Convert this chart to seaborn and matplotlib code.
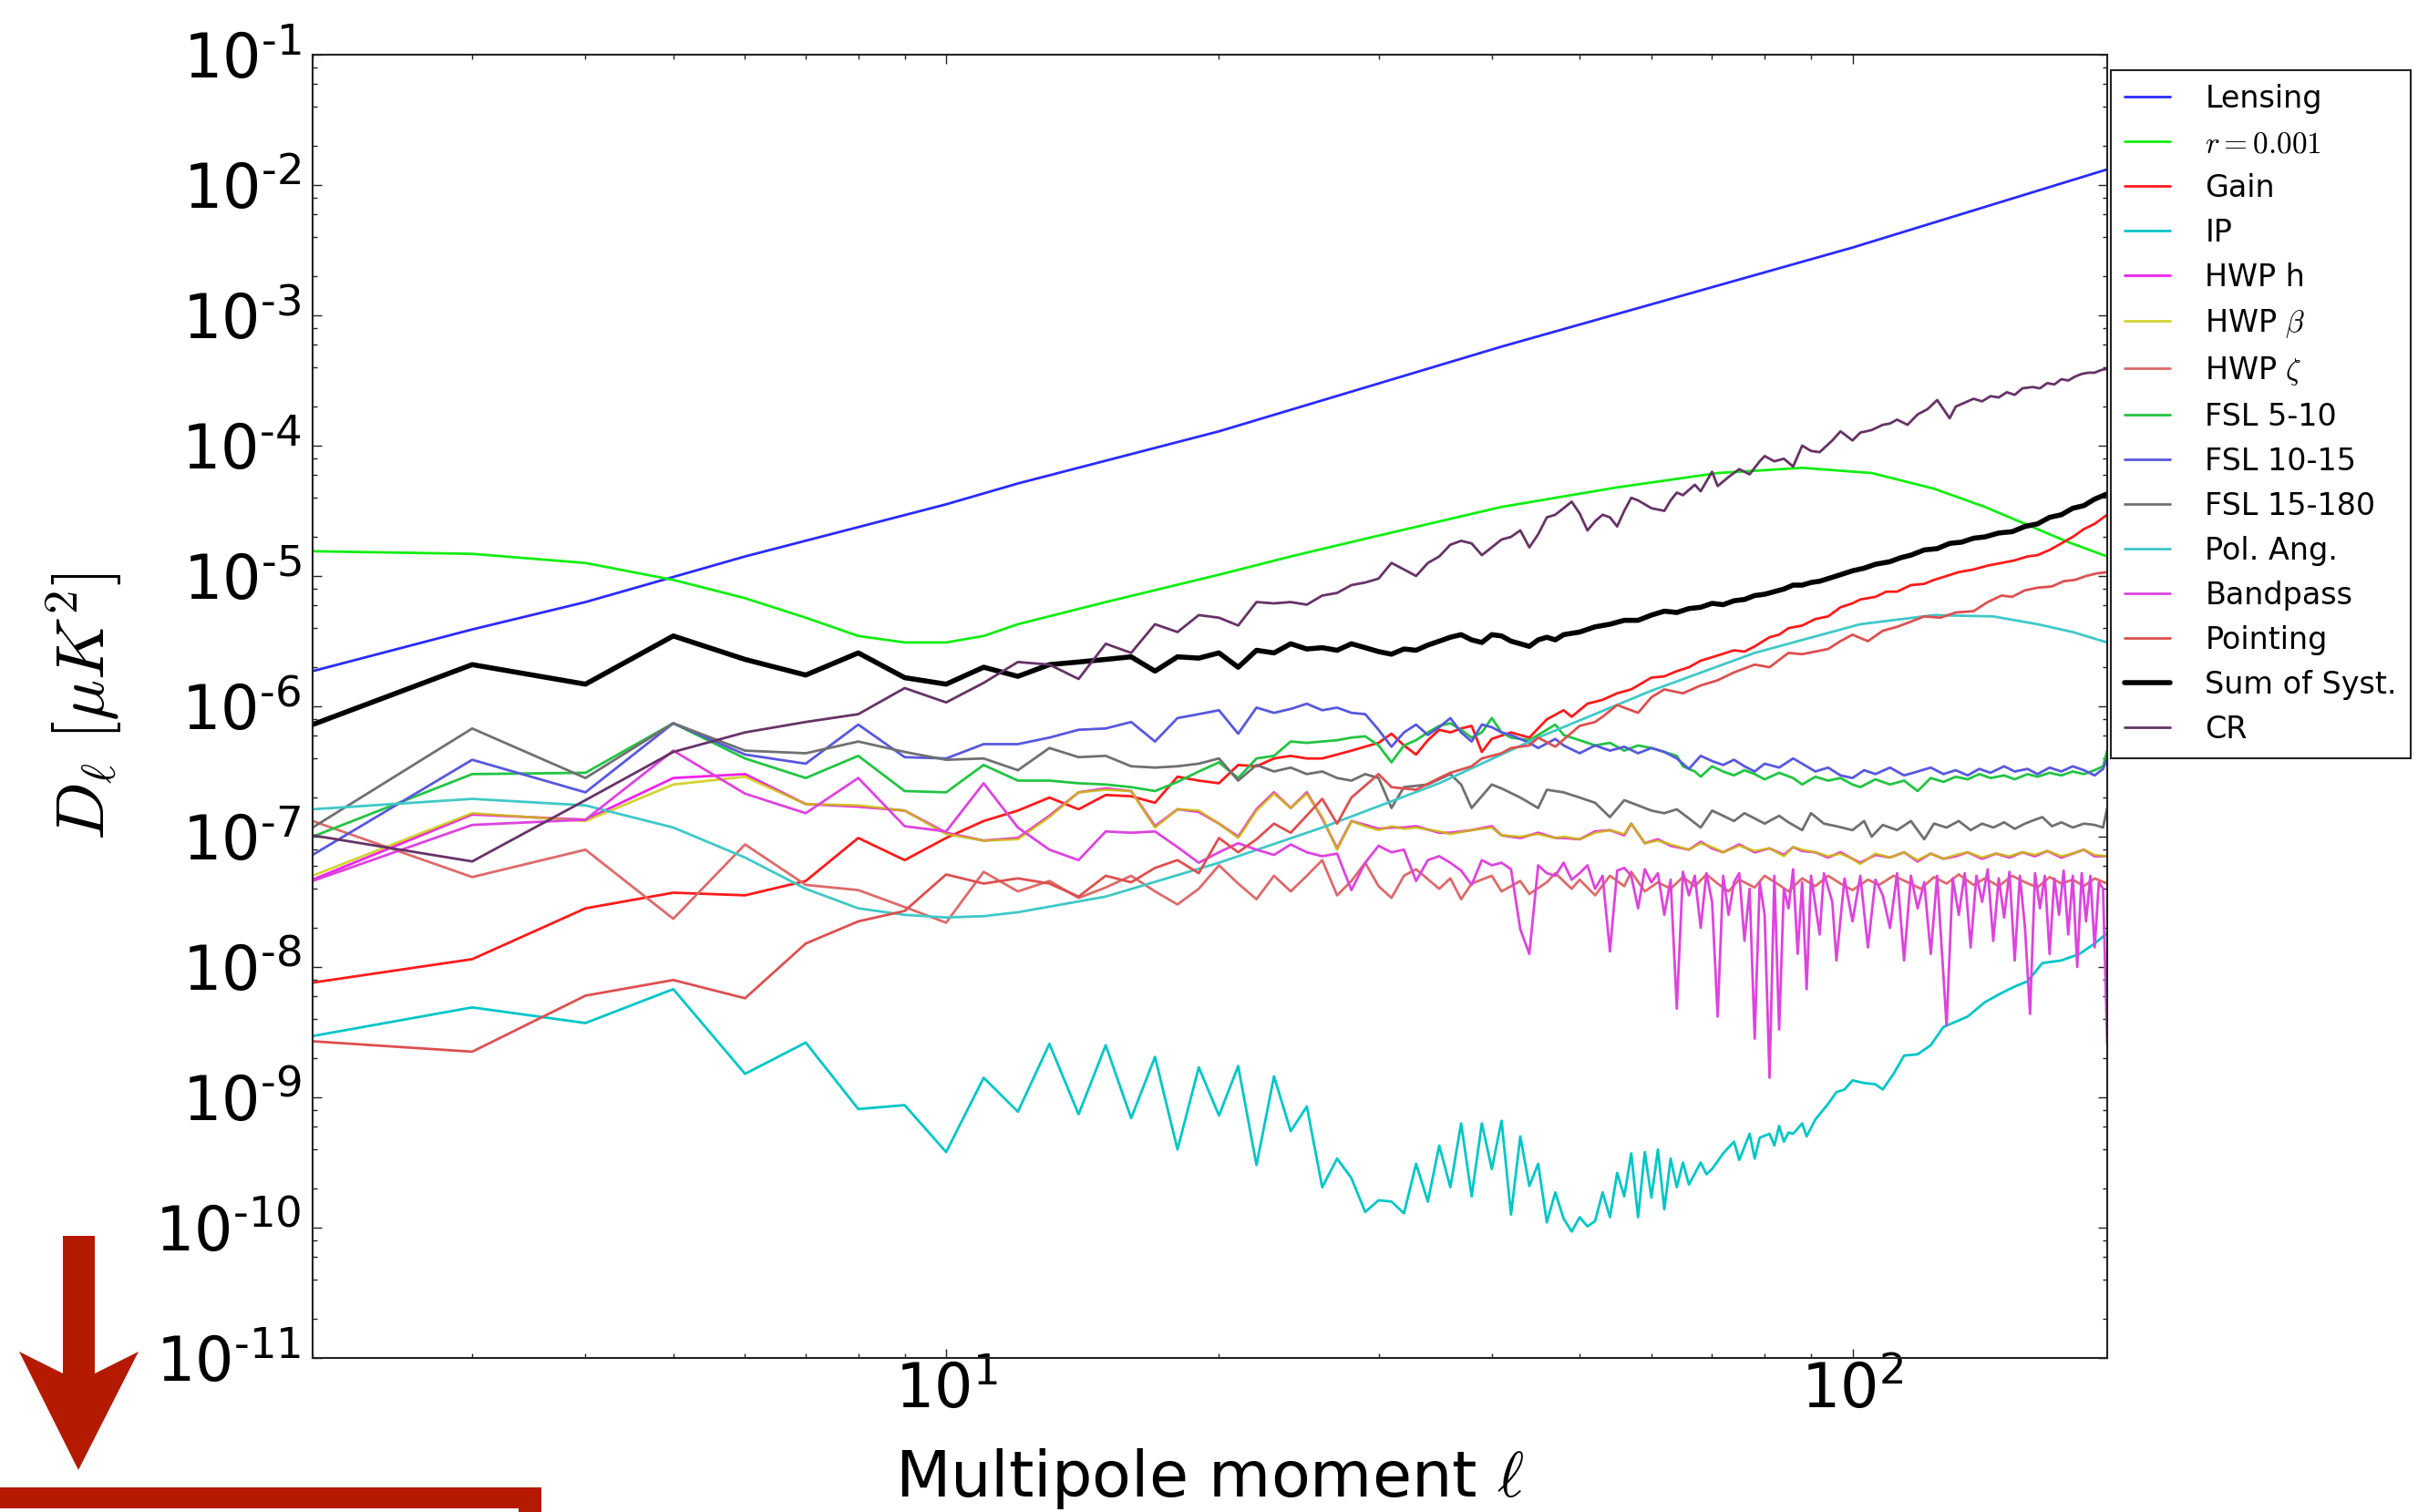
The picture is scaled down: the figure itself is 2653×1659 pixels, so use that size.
import numpy as np
import seaborn as sns
import matplotlib
matplotlib.use('Agg')
import matplotlib.pyplot as plt
from matplotlib.ticker import LogLocator, FuncFormatter, NullFormatter
from matplotlib.patches import Polygon, Rectangle

sns.set_style('ticks', {'xtick.direction': 'in', 'ytick.direction': 'in'})
plt.rcParams['font.family'] = ['DejaVu Sans']
plt.rcParams['text.color'] = 'black'
plt.rcParams['axes.labelcolor'] = 'black'
plt.rcParams['xtick.color'] = 'black'
plt.rcParams['ytick.color'] = 'black'

# (multipole, log10 D_ell) pairs
lensing = [(2, -5.73), (3, -5.41), (4, -5.20), (6, -4.85), (10, -4.45), (12, -4.29),
           (20, -3.89), (41, -3.24), (100, -2.48), (191, -1.88)]

r001 = [(2, -4.81), (3, -4.83), (4, -4.90), (5, -5.03), (6, -5.17), (7, -5.32), (8, -5.46),
        (9, -5.51), (10, -5.51), (11, -5.46), (12, -5.37), (15, -5.20), (20, -4.99), (24, -4.85),
        (30, -4.69), (41, -4.47), (55, -4.32), (71, -4.21), (88, -4.17), (105, -4.21),
        (123, -4.33), (140, -4.47), (155, -4.60), (173, -4.74), (191, -4.85)]

gain = [(2, -8.12), (3, -7.94), (4, -7.55), (5, -7.43), (6, -7.45), (7, -7.34), (8, -7.01),
        (9, -7.18), (10, -7.01), (11, -6.88), (12, -6.80), (13, -6.70), (14, -6.79), (15, -6.68),
        (16, -6.69), (17, -6.74), (18, -6.54), (19, -6.57), (20, -6.59), (21, -6.45), (22, -6.46),
        (23, -6.40), (24, -6.38), (25, -6.40), (26, -6.40), (27, -6.37), (28, -6.34), (30, -6.28),
        (31, -6.21), (32, -6.30), (33, -6.37), (34, -6.26), (35, -6.18), (36, -6.20), (37, -6.17),
        (38, -6.15), (39, -6.35), (40, -6.25), (42, -6.20), (44, -6.24), (46, -6.10), (48, -6.03),
        (49, -6.08), (51, -5.98), (53, -5.95), (55, -5.90), (57, -5.87), (60, -5.78), (62, -5.77),
        (64, -5.73), (66, -5.70), (68, -5.65), (71, -5.61), (74, -5.57), (76, -5.58), (78, -5.54),
        (81, -5.47), (83, -5.45), (85, -5.40), (88, -5.38), (91, -5.33), (94, -5.31), (97, -5.24),
        (100, -5.21), (102, -5.18), (106, -5.16), (109, -5.12), (112, -5.12), (116, -5.07),
        (120, -5.06), (123, -5.03), (127, -5.00), (131, -4.97), (136, -4.95), (141, -4.92),
        (146, -4.90), (151, -4.88), (156, -4.85), (160, -4.84), (165, -4.80), (170, -4.75),
        (175, -4.70), (180, -4.64), (185, -4.60), (191, -4.53)]

ip = [(2, -8.53), (3, -8.31), (4, -8.43), (5, -8.17), (6, -8.82), (7, -8.58), (8, -9.09),
      (9, -9.06), (10, -9.42), (11, -8.85), (12, -9.11), (13, -8.59), (14, -9.13), (15, -8.60),
      (16, -9.16), (17, -8.69), (18, -9.40), (19, -8.77), (20, -9.14), (21, -8.76), (22, -9.52),
      (23, -8.84), (24, -9.26), (25, -9.07), (26, -9.69), (27, -9.47), (28, -9.62), (29, -9.88),
      (30, -9.79), (31, -9.80), (32, -9.89), (33, -9.51), (34, -9.80), (35, -9.37), (36, -9.69),
      (37, -9.20), (38, -9.76), (39, -9.20), (40, -9.55), (41, -9.18), (42, -9.90), (43, -9.30),
      (44, -9.68), (45, -9.51), (46, -9.96), (47, -9.73), (48, -9.93), (49, -10.03), (50, -9.92),
      (51, -9.99), (52, -9.95), (53, -9.73), (54, -9.92), (55, -9.58), (56, -9.76), (57, -9.43),
      (58, -9.92), (59, -9.42), (60, -9.77), (61, -9.40), (62, -9.86), (63, -9.47), (64, -9.69),
      (65, -9.50), (66, -9.67), (68, -9.50), (69, -9.59), (70, -9.55), (72, -9.43), (74, -9.34),
      (75, -9.48), (77, -9.28), (78, -9.47), (79, -9.31), (81, -9.28), (82, -9.37), (83, -9.22),
      (84, -9.34), (85, -9.27), (86, -9.28), (88, -9.20), (89, -9.30), (91, -9.17), (94, -9.05),
      (96, -8.96), (98, -8.94), (100, -8.87), (103, -8.89), (106, -8.90), (108, -8.94),
      (111, -8.82), (114, -8.68), (118, -8.67), (122, -8.60), (126, -8.46), (130, -8.42),
      (134, -8.38), (140, -8.27), (146, -8.20), (151, -8.15), (156, -8.11), (162, -7.97),
      (170, -7.95), (178, -7.90), (185, -7.82), (191, -7.74)]

hwp_h = [(2, -7.33), (3, -6.83), (4, -6.87), (5, -6.55), (6, -6.52), (7, -6.75), (8, -6.77),
         (9, -6.80), (10, -6.97), (11, -7.03), (12, -7.01), (13, -6.84), (14, -6.66), (15, -6.63),
         (16, -6.65), (17, -6.92), (18, -6.79), (19, -6.81), (20, -6.90), (21, -7.00), (22, -6.79),
         (23, -6.66), (24, -6.78), (25, -6.66), (26, -6.86), (27, -7.09), (28, -6.88), (29, -6.91),
         (30, -6.94), (31, -6.93), (32, -6.93), (33, -6.92), (35, -6.97), (36, -6.97), (38, -6.95),
         (40, -6.92), (41, -6.99), (43, -7.01), (45, -6.97), (47, -7.01), (48, -7.01), (50, -7.02),
         (52, -6.96), (54, -6.95), (56, -6.99), (57, -6.90), (59, -7.05), (61, -7.02), (63, -7.07),
         (66, -7.10), (68, -7.04), (70, -7.09), (72, -7.12), (75, -7.06), (78, -7.12), (81, -7.09),
         (84, -7.14), (86, -7.08), (88, -7.11), (91, -7.12), (94, -7.16), (97, -7.12),
         (100, -7.17), (102, -7.20), (106, -7.14), (110, -7.16), (114, -7.12), (118, -7.19),
         (122, -7.13), (126, -7.17), (130, -7.15), (134, -7.12), (139, -7.17), (144, -7.13),
         (149, -7.16), (154, -7.12), (159, -7.15), (164, -7.11), (170, -7.16), (175, -7.13),
         (180, -7.10), (185, -7.15), (191, -7.15)]

hwp_beta = [(2, -7.30), (3, -6.82), (4, -6.88), (5, -6.60), (6, -6.54), (7, -6.75), (8, -6.76),
            (9, -6.80), (10, -6.98), (11, -7.03), (12, -7.02), (13, -6.85), (14, -6.66), (15, -6.64),
            (16, -6.65), (17, -6.93), (18, -6.79), (19, -6.80), (20, -6.90), (21, -7.01), (22, -6.80),
            (23, -6.67), (24, -6.78), (25, -6.67), (26, -6.85), (27, -7.10), (28, -6.88), (29, -6.92),
            (30, -6.95), (31, -6.92), (32, -6.94), (33, -6.93), (35, -6.96), (36, -6.98), (38, -6.95),
            (40, -6.93), (41, -6.99), (43, -7.00), (45, -6.98), (47, -7.01), (48, -7.00), (50, -7.02),
            (52, -6.97), (54, -6.95), (56, -6.98), (57, -6.90), (59, -7.05), (61, -7.03), (63, -7.06),
            (66, -7.10), (68, -7.05), (70, -7.08), (72, -7.12), (75, -7.07), (78, -7.11), (81, -7.09),
            (84, -7.15), (86, -7.08), (88, -7.10), (91, -7.12), (94, -7.15), (97, -7.13),
            (100, -7.17), (102, -7.21), (106, -7.13), (110, -7.16), (114, -7.12), (118, -7.18),
            (122, -7.13), (126, -7.17), (130, -7.14), (134, -7.12), (139, -7.16), (144, -7.13),
            (149, -7.15), (154, -7.12), (159, -7.14), (164, -7.11), (170, -7.15), (175, -7.13),
            (180, -7.10), (185, -7.14), (191, -7.15)]

hwp_zeta = [(2, -6.88), (3, -7.31), (4, -7.10), (5, -7.63), (6, -7.06), (7, -7.37), (8, -7.41),
            (9, -7.54), (10, -7.66), (11, -7.27), (12, -7.42), (13, -7.34), (14, -7.47), (15, -7.39),
            (16, -7.30), (17, -7.42), (18, -7.52), (19, -7.40), (20, -7.22), (21, -7.36), (22, -7.48),
            (23, -7.30), (24, -7.42), (25, -7.30), (26, -7.18), (27, -7.45), (28, -7.34), (29, -7.20),
            (30, -7.38), (31, -7.47), (32, -7.30), (33, -7.25), (35, -7.40), (36, -7.32), (37, -7.48),
            (38, -7.36), (40, -7.30), (41, -7.42), (43, -7.34), (44, -7.44), (46, -7.35), (47, -7.28),
            (49, -7.40), (50, -7.33), (52, -7.45), (54, -7.30), (56, -7.38), (57, -7.27), (59, -7.42),
            (61, -7.35), (63, -7.40), (65, -7.31), (67, -7.38), (69, -7.29), (71, -7.36), (73, -7.42),
            (75, -7.33), (78, -7.39), (80, -7.30), (83, -7.37), (85, -7.42), (88, -7.32), (91, -7.38),
            (94, -7.30), (97, -7.36), (100, -7.41), (104, -7.33), (107, -7.37), (111, -7.30),
            (115, -7.35), (119, -7.40), (123, -7.31), (127, -7.36), (131, -7.29), (136, -7.37),
            (140, -7.32), (145, -7.38), (150, -7.30), (155, -7.35), (160, -7.39), (165, -7.31),
            (170, -7.36), (175, -7.33), (180, -7.38), (185, -7.32), (191, -7.36)]

fsl_5_10 = [(2, -7.00), (3, -6.52), (4, -6.51), (5, -6.13), (6, -6.40), (7, -6.55), (8, -6.38),
            (9, -6.65), (10, -6.66), (11, -6.45), (12, -6.57), (13, -6.57), (14, -6.59), (15, -6.60),
            (16, -6.62), (17, -6.65), (18, -6.58), (19, -6.50), (20, -6.43), (21, -6.55), (22, -6.40),
            (23, -6.38), (24, -6.27), (25, -6.28), (26, -6.27), (27, -6.26), (28, -6.24), (29, -6.23),
            (30, -6.30), (31, -6.43), (32, -6.30), (33, -6.26), (34, -6.20), (35, -6.15), (36, -6.13),
            (37, -6.18), (38, -6.24), (39, -6.20), (40, -6.09), (41, -6.20), (42, -6.24), (44, -6.26),
            (46, -6.18), (47, -6.14), (48, -6.22), (50, -6.26), (52, -6.30), (54, -6.28), (56, -6.34),
            (58, -6.30), (60, -6.32), (62, -6.35), (64, -6.38), (65, -6.46), (67, -6.50), (68, -6.54),
            (70, -6.46), (72, -6.50), (74, -6.53), (76, -6.49), (78, -6.52), (80, -6.56), (83, -6.51),
            (86, -6.55), (88, -6.60), (91, -6.54), (94, -6.57), (97, -6.55), (100, -6.60),
            (102, -6.62), (106, -6.56), (110, -6.60), (114, -6.57), (118, -6.65), (122, -6.55),
            (126, -6.58), (130, -6.54), (134, -6.56), (138, -6.52), (142, -6.55), (147, -6.53),
            (151, -6.56), (156, -6.52), (160, -6.54), (165, -6.51), (170, -6.53), (175, -6.50),
            (180, -6.52), (185, -6.49), (189, -6.46), (191, -6.34)]

fsl_10_15 = [(2, -7.14), (3, -6.41), (4, -6.66), (5, -6.13), (6, -6.37), (7, -6.44), (8, -6.14),
             (9, -6.39), (10, -6.40), (11, -6.29), (12, -6.29), (13, -6.24), (14, -6.18), (15, -6.17),
             (16, -6.12), (17, -6.27), (18, -6.09), (19, -6.06), (20, -6.03), (21, -6.21), (22, -6.01),
             (23, -6.05), (24, -6.02), (25, -5.98), (26, -6.03), (27, -6.01), (28, -6.05), (29, -6.06),
             (30, -6.18), (31, -6.31), (32, -6.20), (33, -6.14), (34, -6.22), (35, -6.16), (36, -6.09),
             (37, -6.20), (38, -6.27), (39, -6.14), (40, -6.16), (41, -6.20), (42, -6.22), (44, -6.28),
             (45, -6.32), (47, -6.25), (48, -6.30), (50, -6.36), (52, -6.30), (54, -6.34), (56, -6.31),
             (58, -6.36), (60, -6.32), (62, -6.35), (64, -6.40), (66, -6.48), (68, -6.38), (70, -6.42),
             (72, -6.45), (74, -6.41), (76, -6.46), (78, -6.50), (80, -6.44), (83, -6.47), (86, -6.40),
             (88, -6.44), (91, -6.50), (94, -6.47), (97, -6.53), (100, -6.55), (103, -6.49),
             (106, -6.52), (110, -6.47), (114, -6.53), (118, -6.50), (122, -6.47), (126, -6.52),
             (130, -6.49), (134, -6.53), (138, -6.48), (142, -6.51), (147, -6.46), (151, -6.50),
             (156, -6.48), (160, -6.52), (165, -6.47), (170, -6.50), (175, -6.46), (180, -6.49),
             (185, -6.53), (189, -6.48), (191, -6.40)]

fsl_15_180 = [(2, -6.93), (3, -6.17), (4, -6.55), (5, -6.13), (6, -6.34), (7, -6.36), (8, -6.27),
              (9, -6.35), (10, -6.41), (11, -6.40), (12, -6.49), (13, -6.32), (14, -6.39), (15, -6.38),
              (16, -6.46), (17, -6.47), (18, -6.46), (19, -6.44), (20, -6.40), (21, -6.57), (22, -6.45),
              (23, -6.50), (24, -6.47), (25, -6.52), (26, -6.50), (27, -6.55), (28, -6.57), (29, -6.52),
              (30, -6.55), (31, -6.78), (32, -6.62), (34, -6.60), (36, -6.52), (37, -6.60), (38, -6.78),
              (40, -6.60), (41, -6.63), (43, -6.70), (45, -6.78), (46, -6.64), (48, -6.66), (50, -6.70),
              (52, -6.74), (54, -6.85), (56, -6.72), (58, -6.76), (60, -6.80), (62, -6.82), (64, -6.79),
              (66, -6.86), (68, -6.93), (70, -6.80), (72, -6.84), (74, -6.88), (76, -6.82), (78, -6.86),
              (80, -6.90), (83, -6.84), (85, -6.89), (88, -6.95), (90, -6.82), (93, -6.90), (96, -6.92),
              (100, -6.95), (103, -6.88), (105, -7.00), (108, -6.91), (112, -6.95), (116, -6.88),
              (120, -7.02), (123, -6.90), (127, -6.93), (131, -6.88), (135, -6.95), (139, -6.90),
              (143, -6.93), (147, -6.89), (151, -6.94), (155, -6.90), (159, -6.87), (162, -6.85),
              (166, -6.92), (170, -6.89), (175, -6.93), (180, -6.90), (185, -6.91), (189, -6.93),
              (191, -6.78)]

pol_ang = [(2, -6.79), (3, -6.71), (4, -6.76), (5, -6.93), (6, -7.16), (7, -7.40), (8, -7.55),
           (9, -7.60), (10, -7.62), (11, -7.61), (12, -7.58), (15, -7.46), (20, -7.20), (26, -6.93),
           (35, -6.59), (45, -6.24), (60, -5.88), (78, -5.59), (102, -5.37), (123, -5.30),
           (143, -5.31), (160, -5.37), (175, -5.43), (191, -5.51)]

bandpass = [(2, -7.34), (3, -6.91), (4, -6.87), (5, -6.34), (6, -6.67), (7, -6.82), (8, -6.55),
            (9, -6.92), (10, -6.96), (11, -6.59), (12, -6.93), (13, -7.10), (14, -7.18), (15, -6.96),
            (16, -6.97), (17, -6.96), (18, -7.08), (19, -7.20), (20, -7.12), (21, -7.05), (22, -7.10),
            (23, -7.14), (24, -7.06), (25, -7.12), (26, -7.15), (27, -7.13), (28, -7.41), (29, -7.20),
            (30, -7.07), (31, -7.12), (32, -7.10), (33, -7.34), (34, -7.18), (35, -7.15), (36, -7.20),
            (37, -7.26), (38, -7.37), (39, -7.18), (40, -7.22), (41, -7.20), (42, -7.25), (43, -7.71),
            (44, -7.90), (45, -7.22), (46, -7.28), (47, -7.30), (48, -7.20), (49, -7.33), (50, -7.28),
            (51, -7.22), (52, -7.40), (53, -7.30), (54, -7.88), (55, -7.26), (56, -7.24), (57, -7.30),
            (58, -7.55), (59, -7.25), (60, -7.35), (61, -7.28), (62, -7.60), (63, -7.33), (64, -8.32),
            (65, -7.27), (66, -7.45), (67, -7.30), (68, -7.70), (69, -7.28), (70, -7.50), (71, -8.38),
            (72, -7.30), (73, -7.60), (74, -7.35), (75, -7.28), (76, -7.80), (77, -7.40), (78, -8.55),
            (79, -7.35), (80, -7.60), (81, -8.85), (82, -7.30), (83, -8.48), (84, -7.40), (85, -7.55),
            (86, -7.25), (87, -7.90), (88, -7.35), (89, -8.17), (90, -7.30), (92, -7.75), (93, -7.28),
            (95, -7.50), (96, -7.95), (98, -7.32), (100, -7.65), (102, -7.30), (104, -7.85),
            (106, -7.33), (108, -7.45), (110, -7.70), (112, -7.28), (114, -7.95), (116, -7.30),
            (118, -7.55), (120, -7.35), (122, -7.90), (124, -7.30), (127, -8.45), (129, -7.32),
            (131, -7.60), (133, -7.28), (135, -7.85), (137, -7.30), (139, -7.50), (141, -7.25),
            (143, -7.80), (145, -7.32), (147, -7.62), (149, -7.27), (151, -7.95), (153, -7.30),
            (155, -7.70), (157, -8.36), (159, -7.28), (161, -7.55), (163, -7.30), (165, -7.90),
            (167, -7.32), (169, -7.60), (171, -7.26), (173, -7.75), (175, -7.30), (177, -8.00),
            (179, -7.28), (181, -7.65), (183, -7.30), (185, -7.85), (187, -7.35), (189, -7.40),
            (191, -8.59)]

pointing = [(2, -8.57), (3, -8.65), (4, -8.22), (5, -8.10), (6, -8.24), (7, -7.82), (8, -7.65),
            (9, -7.57), (10, -7.29), (11, -7.36), (12, -7.32), (13, -7.36), (14, -7.46), (15, -7.30),
            (16, -7.35), (17, -7.24), (18, -7.18), (19, -7.28), (20, -7.01), (21, -7.12), (22, -7.02),
            (23, -6.90), (24, -6.97), (26, -6.71), (27, -6.90), (28, -6.70), (30, -6.52), (31, -6.62),
            (33, -6.64), (35, -6.55), (36, -6.51), (38, -6.46), (39, -6.40), (41, -6.36), (42, -6.32),
            (44, -6.30), (45, -6.24), (47, -6.31), (50, -6.15), (52, -6.12), (53, -6.08), (55, -5.99),
            (58, -6.05), (60, -5.93), (62, -5.87), (65, -5.90), (68, -5.84), (71, -5.80), (74, -5.74),
            (78, -5.68), (81, -5.70), (85, -5.59), (88, -5.60), (94, -5.56), (97, -5.50),
            (100, -5.45), (104, -5.50), (108, -5.42), (112, -5.39), (116, -5.35), (120, -5.31),
            (125, -5.32), (130, -5.28), (136, -5.27), (141, -5.20), (146, -5.15), (150, -5.16),
            (155, -5.11), (160, -5.09), (166, -5.08), (171, -5.04), (176, -5.03), (181, -5.00),
            (186, -4.98), (191, -4.97)]

sum_syst = [(2, -6.14), (3, -5.68), (4, -5.83), (5, -5.46), (6, -5.64), (7, -5.76), (8, -5.59),
            (9, -5.78), (10, -5.83), (11, -5.70), (12, -5.77), (13, -5.68), (14, -5.66), (15, -5.64),
            (16, -5.62), (17, -5.73), (18, -5.62), (19, -5.63), (20, -5.59), (21, -5.70), (22, -5.57),
            (23, -5.59), (24, -5.52), (25, -5.56), (26, -5.55), (27, -5.57), (28, -5.52), (29, -5.55),
            (30, -5.58), (31, -5.60), (32, -5.56), (33, -5.57), (34, -5.53), (35, -5.50), (36, -5.47),
            (37, -5.45), (38, -5.49), (39, -5.51), (40, -5.45), (41, -5.46), (42, -5.50), (43, -5.52),
            (44, -5.54), (45, -5.49), (46, -5.47), (47, -5.49), (48, -5.45), (50, -5.43), (52, -5.39),
            (54, -5.37), (56, -5.34), (58, -5.34), (60, -5.30), (62, -5.27), (64, -5.28), (66, -5.25),
            (68, -5.24), (70, -5.21), (72, -5.22), (74, -5.19), (76, -5.18), (78, -5.15), (80, -5.14),
            (82, -5.12), (84, -5.10), (86, -5.07), (88, -5.07), (90, -5.05), (92, -5.04), (95, -5.01),
            (98, -4.98), (100, -4.96), (103, -4.94), (106, -4.91), (110, -4.89), (113, -4.86),
            (116, -4.84), (120, -4.80), (124, -4.79), (128, -4.75), (132, -4.74), (136, -4.71),
            (140, -4.70), (145, -4.67), (150, -4.66), (155, -4.62), (160, -4.60), (165, -4.55),
            (170, -4.53), (175, -4.48), (180, -4.46), (185, -4.41), (191, -4.37)]

cr = [(2, -6.99), (3, -7.19), (4, -6.72), (5, -6.35), (6, -6.20), (7, -6.12), (8, -6.06),
      (9, -5.86), (10, -5.97), (11, -5.82), (12, -5.66), (13, -5.68), (14, -5.79), (15, -5.52),
      (16, -5.59), (17, -5.37), (18, -5.43), (19, -5.30), (20, -5.32), (21, -5.38), (22, -5.20),
      (23, -5.21), (24, -5.20), (25, -5.22), (26, -5.15), (27, -5.13), (28, -5.07), (29, -5.05),
      (30, -5.02), (31, -4.90), (32, -4.95), (33, -5.00), (34, -4.90), (35, -4.85), (36, -4.76),
      (37, -4.73), (38, -4.75), (39, -4.84), (40, -4.78), (41, -4.72), (42, -4.70), (43, -4.65),
      (44, -4.78), (45, -4.68), (46, -4.55), (47, -4.53), (48, -4.48), (49, -4.43), (50, -4.52),
      (51, -4.65), (52, -4.58), (53, -4.53), (54, -4.55), (55, -4.62), (56, -4.50), (57, -4.40),
      (58, -4.42), (59, -4.45), (60, -4.48), (62, -4.50), (63, -4.42), (64, -4.36), (65, -4.38),
      (67, -4.30), (68, -4.35), (70, -4.20), (71, -4.31), (73, -4.24), (75, -4.18), (77, -4.22),
      (79, -4.12), (80, -4.08), (82, -4.12), (84, -4.10), (86, -4.16), (88, -4.00), (90, -4.04),
      (92, -4.05), (95, -3.96), (97, -3.89), (100, -3.96), (102, -3.90), (105, -3.88),
      (108, -3.84), (110, -3.83), (112, -3.80), (115, -3.84), (118, -3.76), (121, -3.72),
      (124, -3.65), (126, -3.72), (128, -3.79), (130, -3.70), (133, -3.67), (136, -3.64),
      (139, -3.66), (142, -3.62), (145, -3.63), (148, -3.59), (151, -3.61), (154, -3.56),
      (158, -3.55), (161, -3.56), (164, -3.52), (167, -3.53), (170, -3.49), (173, -3.50),
      (176, -3.47), (179, -3.45), (182, -3.44), (185, -3.44), (188, -3.42), (191, -3.41)]

labels = ['Lensing', r'$r=0.001$', 'Gain', 'IP', 'HWP h', r'HWP $\beta$', r'HWP $\zeta$',
          'FSL 5-10', 'FSL 10-15', 'FSL 15-180', 'Pol. Ang.', 'Bandpass', 'Pointing',
          'Sum of Syst.', 'CR']
curves = [lensing, r001, gain, ip, hwp_h, hwp_beta, hwp_zeta, fsl_5_10, fsl_10_15,
          fsl_15_180, pol_ang, bandpass, pointing, sum_syst, cr]
colors = ['#2a2aff', '#11ee11', '#ff1a1a', '#00c6c6', '#ee22ee', '#c8c800', '#dd6a6a',
          '#22c444', '#5858dd', '#707070', '#40c8c8', '#dd44dd', '#dd5050', '#000000', '#663366']
widths = [2.0] * 13 + [4.0, 2.0]
alphas = [1, 1, 1, 1, 1, 0.8, 1, 1, 1, 1, 1, 1, 1, 1, 1]

W, H = 2653, 1659
fig = plt.figure(figsize=(W / 100, H / 100), dpi=100)
ax = fig.add_axes([343 / W, 1 - 1490 / H, (2312 - 343) / W, (1490 - 60) / H])
ax.set_xscale('log')
ax.set_yscale('log')

for lab, pts, col, lw, al in zip(labels, curves, colors, widths, alphas):
    ell, logd = zip(*pts)
    sns.lineplot(x=np.array(ell, float), y=10.0 ** np.array(logd), ax=ax, color=col,
                 linewidth=lw, alpha=al, estimator=None, sort=False, label=lab)

ax.set_xlim(2, 191)
ax.set_ylim(1e-11, 1e-1)

ax.xaxis.set_major_locator(LogLocator(base=10, numticks=10))
ax.xaxis.set_minor_locator(LogLocator(base=10, subs=np.arange(2, 10), numticks=10))
ax.yaxis.set_major_locator(LogLocator(base=10, numticks=20))
ax.yaxis.set_minor_locator(LogLocator(base=10, subs=(2, 4, 6, 8), numticks=20))
ax.xaxis.set_major_formatter(FuncFormatter(lambda v, p: r'$10^{%d}$' % round(np.log10(v))))
ax.yaxis.set_major_formatter(
    FuncFormatter(lambda v, p: r'$10^{\text{-}%d}$' % round(-np.log10(v))))
ax.xaxis.set_minor_formatter(NullFormatter())
ax.yaxis.set_minor_formatter(NullFormatter())

ax.tick_params(which='both', direction='in', top=True, right=True, width=1, color='#222222')
ax.tick_params(which='major', length=7, labelsize=48)
ax.tick_params(which='minor', length=3.6)
ax.tick_params(axis='y', which='major', pad=9)
ax.tick_params(axis='x', which='major', pad=2)
for s in ax.spines.values():
    s.set_linewidth(1.5)
    s.set_color('#222222')

ax.set_xlabel(r'Multipole moment $\ell$', fontsize=50.5, math_fontfamily='cm')
ax.set_ylabel(r'$D_\ell\ [\mu K^2]$', fontsize=54, math_fontfamily='cm')
ax.xaxis.set_label_coords(0.5, -0.068)
ax.yaxis.set_label_coords(-0.105, 0.5)

leg = ax.legend(loc='upper left', bbox_to_anchor=(2316 / W, 1 - 77 / H),
                bbox_transform=fig.transFigure, borderaxespad=0, fontsize=24,
                frameon=True, fancybox=False, edgecolor='#222222', framealpha=1,
                handlelength=1.5, handletextpad=1.15, labelspacing=0.48, borderpad=0.45)
leg.get_frame().set_linewidth(1.5)
for t in leg.get_texts():
    t.set_math_fontfamily('cm')
    t.set_color('black')

# red arrow and bar in the lower left corner
red = '#b31a00'
arrow = [(69, 1356), (104, 1356), (104, 1507), (152, 1483), (86, 1613), (21, 1483), (69, 1507)]
fig.add_artist(Polygon([(x / W, 1 - y / H) for x, y in arrow], closed=True,
                       transform=fig.transFigure, facecolor=red, edgecolor='none'))
fig.add_artist(Rectangle((0, 1 - 1655 / H), 594 / W, 23 / H, transform=fig.transFigure,
                         facecolor=red, edgecolor='none'))
fig.add_artist(Rectangle((569 / W, 0), 25 / W, 5 / H, transform=fig.transFigure,
                         facecolor=red, edgecolor='none'))

fig.savefig('out.png', dpi=100)
